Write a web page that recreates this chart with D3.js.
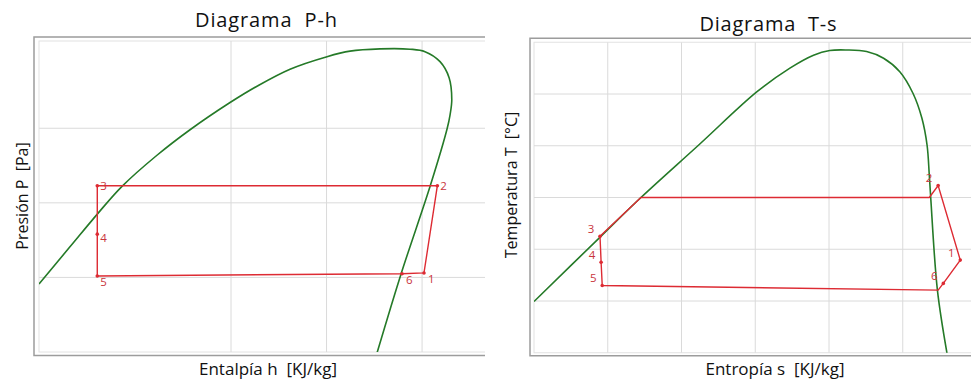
<!DOCTYPE html>
<html>
<head>
<meta charset="utf-8">
<script src="https://cdn.jsdelivr.net/npm/d3@7"></script>
<style>
  body { margin: 0; background: #fff; }
  svg text { font-family: "Open Sans", sans-serif; white-space: pre; }
</style>
</head>
<body>
<svg id="chart" width="971" height="380"></svg>
<script>
// ---- P-h diagram ----
const phDomeH = [-1, 31.4, 60.7, 85.9, 122.5, 157.1, 199, 227.2, 261.8, 300.5, 324.6, 356, 387.4, 403.1, 418.8, 428.3, 431.1, 429.3, 426.2, 408.4, 378, 352.9];
const phDomeP = [0.913, 1.41, 1.859, 2.221, 2.638, 2.98, 3.345, 3.564, 3.792, 3.96, 4.034, 4.064, 4.06, 4.027, 3.893, 3.678, 3.383, 3.181, 2.993, 2.222, 1.047, -0.01];
const phCycleNames = ["3", "2", "1", "6", "5", "4"];
const phCycleH = [60, 416, 402, 379, 60, 60];
const phCycleP = [2.23, 2.23, 1.06, 1.05, 1.02, 1.58];
const phGridH = [200, 300, 400];
const phGridP = [1, 2, 3];

// ---- T-s diagram ----
const tsDomeS = [0, 0.9, 1.45, 2.23, 3.02, 3.47, 3.79, 4.01, 4.24, 4.51, 4.74, 4.96, 5.14, 5.26, 5.33, 5.36, 5.38, 5.47, 5.60];
const tsDomeT = [0.99, 2.24, 3.0, 4.01, 5.04, 5.50, 5.75, 5.84, 5.85, 5.82, 5.69, 5.43, 5.01, 4.53, 4.01, 3.43, 2.98, 1.21, -0.01];
const tsCycleNames = ["3", "", "", "2", "1", "6", "", "5", "4"];
const tsCycleS = [0.895, 1.45, 5.36, 5.48, 5.78, 5.55, 5.48, 0.925, 0.91];
const tsCycleT = [2.25, 3.0, 3.0, 3.23, 1.79, 1.34, 1.21, 1.30, 1.75];
const tsGridS = [1, 2, 3, 4, 5];
const tsGridT = [1, 2, 3, 4, 5];

const green = "#257a28";
const red = "#dd2b33";
const labelRed = "#c9353c";

const svg = d3.select("#chart");

function drawPanel (opt) {
    const x = d3.scaleLinear().domain(opt.xDomain).range(opt.xRange);
    const y = d3.scaleLinear().domain(opt.yDomain).range(opt.yRange);

    svg.append("clipPath").attr("id", opt.id + "-view")
        .append("rect")
            .attr("x", opt.view[0]).attr("y", 0)
            .attr("width", opt.view[1] - opt.view[0]).attr("height", 380);
    svg.append("clipPath").attr("id", opt.id + "-plot")
        .append("rect")
            .attr("x", x.range()[0]).attr("y", y.range()[1])
            .attr("width", x.range()[1] - x.range()[0])
            .attr("height", y.range()[0] - y.range()[1]);

    const g = svg.append("g").attr("clip-path", `url(#${opt.id}-view)`);

    // outer frame
    g.append("rect")
        .attr("x", x.range()[0] - opt.pad[0])
        .attr("y", y.range()[1] - opt.pad[1])
        .attr("width", x.range()[1] - x.range()[0] + opt.pad[0] + 20)
        .attr("height", y.range()[0] - y.range()[1] + opt.pad[1] + opt.pad[2])
        .attr("fill", "#fff")
        .attr("stroke", "#9c9c9c")
        .attr("stroke-width", 1.5);

    // plot area
    g.append("rect")
        .attr("x", x.range()[0]).attr("y", y.range()[1])
        .attr("width", x.range()[1] - x.range()[0])
        .attr("height", y.range()[0] - y.range()[1])
        .attr("fill", "#fff")
        .attr("stroke", "#e2e2e2")
        .attr("stroke-width", 1);

    const plot = g.append("g").attr("clip-path", `url(#${opt.id}-plot)`);

    plot.selectAll(".vgrid")
        .data(opt.gridX).enter()
            .append("line")
                .attr("x1", (d) => x(d)).attr("x2", (d) => x(d))
                .attr("y1", y.range()[0]).attr("y2", y.range()[1])
                .attr("stroke", "#dadada").attr("stroke-width", 1);

    plot.selectAll(".hgrid")
        .data(opt.gridY).enter()
            .append("line")
                .attr("x1", x.range()[0]).attr("x2", x.range()[1])
                .attr("y1", (d) => y(d)).attr("y2", (d) => y(d))
                .attr("stroke", "#dadada").attr("stroke-width", 1);

    const dome = opt.domeX.map((d, i) => [d, opt.domeY[i]]);
    plot.append("path")
        .datum(dome)
        .attr("d", d3.line().x((d) => x(d[0])).y((d) => y(d[1])).curve(d3.curveCatmullRom.alpha(0.5)))
        .attr("fill", "none")
        .attr("stroke", green)
        .attr("stroke-width", 1.6);

    const cycle = opt.cycleX.map((d, i) => ({x: d, y: opt.cycleY[i], name: opt.names[i]}));
    plot.append("path")
        .datum(cycle.map((d) => [d.x, d.y]))
        .attr("d", d3.line().x((d) => x(d[0])).y((d) => y(d[1])).curve(d3.curveLinearClosed))
        .attr("fill", "none")
        .attr("stroke", red)
        .attr("stroke-width", 1.4);

    plot.selectAll(".dot")
        .data(cycle.filter((d) => d.name !== "")).enter()
            .append("circle")
                .attr("cx", (d) => x(d.x))
                .attr("cy", (d) => y(d.y))
                .attr("r", 1.8)
                .attr("fill", red);

    plot.selectAll(".lbl")
        .data(cycle.filter((d) => d.name !== "")).enter()
            .append("text")
                .attr("x", (d) => x(d.x) + opt.labelOffset(d)[0])
                .attr("y", (d) => y(d.y) + opt.labelOffset(d)[1])
                .attr("text-anchor", opt.labelAnchor)
                .attr("dominant-baseline", "central")
                .attr("font-size", 11.5)
                .attr("fill", labelRed)
                .text((d) => d.name);

    // titles
    svg.append("text")
        .attr("x", opt.title[1]).attr("y", opt.title[2])
        .attr("text-anchor", "middle")
        .attr("font-size", 20)
        .attr("textLength", opt.title[3])
        .attr("lengthAdjust", "spacing")
        .attr("fill", "#111")
        .text(opt.title[0]);

    svg.append("text")
        .attr("x", opt.xLabel[1]).attr("y", 375)
        .attr("text-anchor", "middle")
        .attr("font-size", 17)
        .attr("fill", "#111")
        .text(opt.xLabel[0]);

    svg.append("text")
        .attr("transform", `translate(${opt.yLabel[1]},${opt.yLabel[2]}) rotate(-90)`)
        .attr("text-anchor", "middle")
        .attr("dominant-baseline", "central")
        .attr("font-size", 16)
        .attr("fill", "#111")
        .text(opt.yLabel[0]);
}

const phOffsets = {"3": [3, 0], "2": [3, 0], "1": [4, 6], "6": [4, 6], "5": [3, 6], "4": [3, 3]};

drawPanel({
    id: "ph",
    xDomain: [-1, 480], xRange: [39, 498.5],
    yDomain: [0, 4.17], yRange: [352, 41],
    view: [0, 485],
    pad: [5, 4, 3.5],
    gridX: phGridH, gridY: phGridP,
    domeX: phDomeH, domeY: phDomeP,
    cycleX: phCycleH, cycleY: phCycleP, names: phCycleNames,
    labelOffset: (d) => phOffsets[d.name],
    labelAnchor: "start",
    title: ["Diagrama  P-h", 266, 27, 142],
    xLabel: ["Entalpía h  [KJ/kg]", 268],
    yLabel: ["Presión P  [Pa]", 22, 196]
});

drawPanel({
    id: "ts",
    xDomain: [0, 6.2], xRange: [534, 991.25],
    yDomain: [0, 6], yRange: [352.75, 42.25],
    view: [485, 971],
    pad: [4, 4, 3],
    gridX: tsGridS, gridY: tsGridT,
    domeX: tsDomeS, domeY: tsDomeT,
    cycleX: tsCycleS, cycleY: tsCycleT, names: tsCycleNames,
    labelOffset: (d) => [-9, -8],
    labelAnchor: "middle",
    title: ["Diagrama  T-s", 768, 31, 137],
    xLabel: ["Entropía s  [KJ/kg]", 775],
    yLabel: ["Temperatura T  [°C]", 511, 185]
});
</script>
</body>
</html>
